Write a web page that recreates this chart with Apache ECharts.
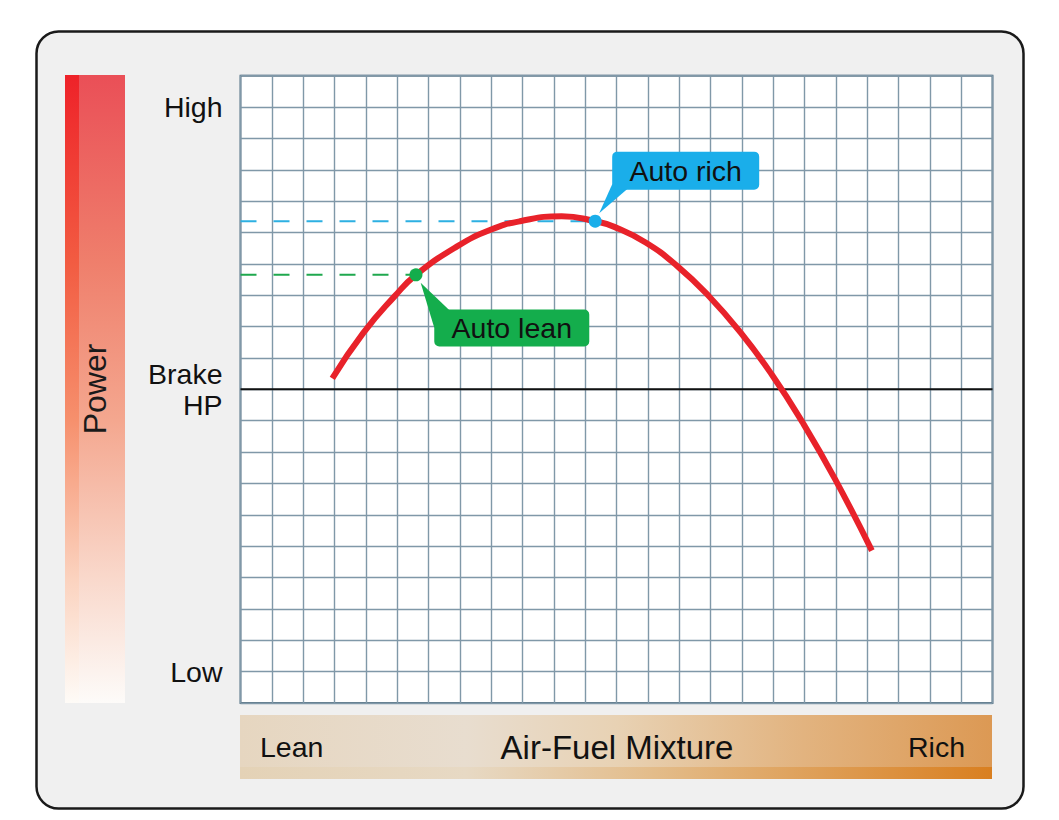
<!DOCTYPE html>
<html>
<head>
<meta charset="utf-8">
<script src="https://cdn.jsdelivr.net/npm/echarts@6/dist/echarts.min.js"></script>
<style>
html, body { margin: 0; padding: 0; background: #fff; }
#chart { width: 1059px; height: 820px; }
</style>
</head>
<body>
<div id="chart"></div>
<script>
var FONT = 'Liberation Sans, Arial, Helvetica, sans-serif'

// power curve: mixture position (grid columns) vs power (grid rows)
var mixture = [2.93, 3.92, 4.93, 5.60, 6.90, 7.96, 8.92, 10.25, 11.32, 11.93, 12.93, 13.95, 14.95, 15.97, 16.95, 17.96, 18.98, 20.15]
var power = [10.35, 11.80, 12.98, 13.65, 14.55, 15.08, 15.36, 15.52, 15.36, 15.18, 14.68, 13.92, 12.97, 11.80, 10.48, 8.91, 7.13, 4.86]

// the two marked settings
var markerNames = ['Auto lean', 'Auto rich']
var markerMixture = [5.60, 11.32]
var markerPower = [13.65, 15.36]
var markerColors = ['#14ad4c', '#1aaeea']
var dashColors = ['#1fa84e', '#2db0e2']

var brakeHP = 10
var yTickValues = [1, 10, 19]
var yTickLabels = ['Low', 'Brake\nHP', 'High']
var xBarLabels = ['Lean', 'Air-Fuel Mixture', 'Rich']
var yTitle = 'Power'

var chart = echarts.init(document.getElementById('chart'), null, { renderer: 'svg' })

var curveData = mixture.map(function (x, i) { return [x, power[i]] })

var series = [{
  type: 'line',
  silent: true,
  symbol: 'none',
  z: 2,
  data: [[0, brakeHP], [24, brakeHP]],
  lineStyle: { color: '#111', width: 2 }
}]

markerNames.forEach(function (name, i) {
  series.push({
    type: 'line',
    silent: true,
    symbol: 'none',
    z: 3,
    data: [[0, markerPower[i]], [markerMixture[i], markerPower[i]]],
    lineStyle: { color: dashColors[i], width: 2, type: [16, 17] }
  })
})

series.push({
  type: 'line',
  silent: true,
  smooth: true,
  symbol: 'none',
  z: 4,
  data: curveData,
  lineStyle: { color: '#e8222a', width: 6 }
})

series.push({
  type: 'scatter',
  silent: true,
  symbolSize: 13,
  z: 5,
  data: markerNames.map(function (name, i) {
    return { name: name, value: [markerMixture[i], markerPower[i]], itemStyle: { color: markerColors[i], opacity: 1 } }
  })
})

var option = {
  animation: false,
  backgroundColor: '#fff',
  grid: {
    left: 240.5, top: 75.7, width: 752, height: 627.3,
    show: true, backgroundColor: '#fff', borderColor: '#5f7a8b', borderWidth: 2
  },
  xAxis: {
    type: 'value', min: 0, max: 24, interval: 1,
    axisLine: { show: false }, axisTick: { show: false }, axisLabel: { show: false },
    splitLine: { show: true, lineStyle: { color: '#8098a8', width: 1.4 } }
  },
  yAxis: {
    type: 'value', min: 0, max: 20, interval: 1,
    axisLine: { show: false }, axisTick: { show: false },
    splitLine: { show: true, lineStyle: { color: '#8098a8', width: 1.4 } },
    axisLabel: {
      margin: 18,
      fontFamily: FONT, fontSize: 28.5, color: '#111', lineHeight: 31, align: 'right',
      formatter: function (v) {
        var k = yTickValues.indexOf(v)
        return k < 0 ? '' : yTickLabels[k]
      }
    }
  },
  series: series
}

chart.setOption(option)

// annotations, placed from the marker points through the axes
function callout(i, box, tip, b1, b2) {
  var p = chart.convertToPixel({ gridIndex: 0 }, [markerMixture[i], markerPower[i]])
  var c = markerColors[i]
  return [{
    type: 'polygon', z: 100, silent: true,
    shape: { points: [[p[0] + tip[0], p[1] + tip[1]], [p[0] + b1[0], p[1] + b1[1]], [p[0] + b2[0], p[1] + b2[1]]] },
    style: { fill: c }
  }, {
    type: 'rect', z: 100, silent: true,
    shape: { x: p[0] + box[0], y: p[1] + box[1], width: box[2], height: box[3], r: 5 },
    style: { fill: c }
  }, {
    type: 'text', z: 101, silent: true,
    style: {
      x: p[0] + box[0] + box[2] / 2, y: p[1] + box[1] + box[3] / 2,
      text: markerNames[i], align: 'center', verticalAlign: 'middle',
      fontFamily: FONT, fontSize: 28.5, fill: '#111'
    }
  }]
}

var graphics = [{
  type: 'rect', z: -10, silent: true,
  shape: { x: 36.5, y: 31.5, width: 987, height: 777, r: 22 },
  style: { fill: '#f0f0f0', stroke: '#1a1a1a', lineWidth: 2.5 }
}, {
  // power scale bar
  type: 'rect', silent: true,
  shape: { x: 65, y: 75, width: 60, height: 628 },
  style: {
    fill: new echarts.graphic.LinearGradient(0, 0, 0, 1, [
      { offset: 0, color: '#ea4f57' },
      { offset: 0.3, color: '#ef7f6c' },
      { offset: 0.55, color: '#f4a78f' },
      { offset: 0.8, color: '#f9d8cb' },
      { offset: 1, color: '#fdfbf9' }
    ])
  }
}, {
  type: 'rect', silent: true,
  shape: { x: 65, y: 75, width: 14, height: 628 },
  style: {
    fill: new echarts.graphic.LinearGradient(0, 0, 0, 1, [
      { offset: 0, color: '#ee2229' },
      { offset: 0.3, color: '#f25c42' },
      { offset: 0.55, color: '#f6906d' },
      { offset: 0.8, color: '#fbd2be' },
      { offset: 1, color: '#fefbf7' }
    ])
  }
}, {
  type: 'text', silent: true,
  x: 95, y: 389, rotation: Math.PI / 2,
  style: { text: yTitle, align: 'center', verticalAlign: 'middle', fontFamily: FONT, fontSize: 32, fill: '#1a1a1a' }
}, {
  // mixture bar
  type: 'rect', silent: true,
  shape: { x: 240, y: 715, width: 752, height: 64 },
  style: {
    fill: new echarts.graphic.LinearGradient(0, 0, 1, 0, [
      { offset: 0, color: '#e6d6c0' },
      { offset: 0.3, color: '#e8ddcf' },
      { offset: 0.5, color: '#e8d2b4' },
      { offset: 0.75, color: '#e2b37f' },
      { offset: 1, color: '#dc9954' }
    ])
  }
}, {
  type: 'rect', silent: true,
  shape: { x: 240, y: 767, width: 752, height: 12 },
  style: {
    fill: new echarts.graphic.LinearGradient(0, 0, 1, 0, [
      { offset: 0, color: '#e4d2b6' },
      { offset: 0.3, color: '#e7d9c4' },
      { offset: 0.55, color: '#e3bc8a' },
      { offset: 1, color: '#d97f20' }
    ])
  }
}, {
  type: 'text', silent: true,
  style: { x: 260, y: 747, text: xBarLabels[0], align: 'left', verticalAlign: 'middle', fontFamily: FONT, fontSize: 28.5, fill: '#111' }
}, {
  type: 'text', silent: true,
  style: { x: 617, y: 747, text: xBarLabels[1], align: 'center', verticalAlign: 'middle', fontFamily: FONT, fontSize: 33, fill: '#111' }
}, {
  type: 'text', silent: true,
  style: { x: 965, y: 747, text: xBarLabels[2], align: 'right', verticalAlign: 'middle', fontFamily: FONT, fontSize: 28.5, fill: '#111' }
}]

graphics = graphics
  .concat(callout(0, [18.3, 34.6, 155, 37], [4.7, 8], [18.3, 53], [34, 36]))
  .concat(callout(1, [17, -69.6, 147, 38], [4, -8], [17, -37], [33, -33]))

chart.setOption({ graphic: graphics })
</script>
</body>
</html>
